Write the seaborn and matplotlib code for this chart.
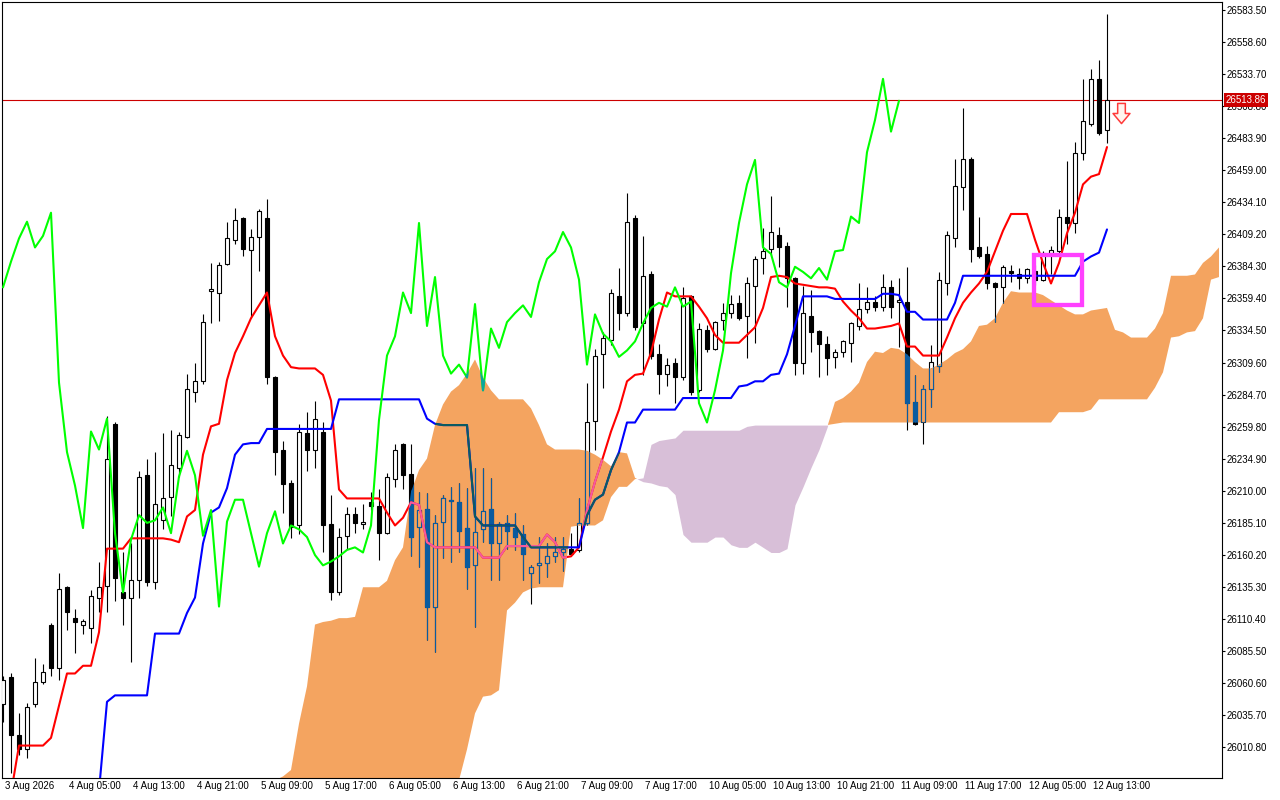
import numpy as np
import pandas as pd
import matplotlib
matplotlib.use("Agg")
import matplotlib.pyplot as plt
import matplotlib.transforms as mtrans
from matplotlib.path import Path
from matplotlib.patches import Rectangle
import seaborn as sns

# =====================================
# 1. Data (H1 bars, 3 Aug - 12 Aug 2026)
# =====================================
opens = [26044, 26065, 26020, 26009, 26044, 26061, 26106, 26072, 26135, 26111,
         26106, 26103, 26127, 26136, 26262, 26131, 26127, 26141, 26222, 26139,
         26187, 26205, 26228, 26252, 26287, 26295, 26365, 26364, 26386, 26405,
         26422, 26397, 26407, 26422, 26298, 26242, 26216, 26183, 26255, 26242,
         26256, 26184, 26131, 26175, 26192, 26184, 26201, 26198, 26177, 26219,
         26246, 26223, 26182, 26196, 26120, 26186, 26202, 26201, 26181, 26152,
         26180, 26196, 26169, 26185, 26181, 26176, 26146, 26152, 26154, 26159,
         26162, 26165, 26164, 26185, 26264, 26316, 26327, 26361, 26348, 26422,
         26340, 26378, 26316, 26301, 26309, 26298, 26361, 26288, 26335, 26320,
         26343, 26348, 26356, 26346, 26369, 26391, 26398, 26409, 26400, 26375,
         26309, 26346, 26334, 26324, 26314, 26318, 26325, 26338, 26351, 26357,
         26353, 26368, 26357, 26357, 26279, 26263, 26289, 26307, 26371, 26406,
         26446, 26468, 26399, 26394, 26371, 26368, 26381, 26378, 26375, 26381,
         26374, 26395, 26396, 26423, 26418, 26472, 26495, 26530, 26490]
highs = [26066, 26068, 26037, 26045, 26080, 26075, 26107, 26146, 26136, 26118,
         26110, 26133, 26155, 26268, 26263, 26162, 26169, 26225, 26235, 26240,
         26255, 26257, 26256, 26301, 26309, 26347, 26387, 26388, 26419, 26430,
         26423, 26413, 26429, 26437, 26299, 26249, 26218, 26262, 26271, 26280,
         26263, 26207, 26181, 26197, 26197, 26200, 26209, 26211, 26224, 26246,
         26247, 26246, 26209, 26208, 26191, 26207, 26213, 26216, 26212, 26228,
         26228, 26220, 26186, 26191, 26193, 26183, 26152, 26174, 26169, 26174,
         26174, 26177, 26204, 26294, 26320, 26333, 26367, 26383, 26441, 26424,
         26408, 26381, 26324, 26313, 26313, 26368, 26362, 26340, 26339, 26342,
         26356, 26362, 26362, 26376, 26392, 26414, 26439, 26415, 26403, 26376,
         26369, 26366, 26335, 26330, 26320, 26327, 26341, 26371, 26368, 26361,
         26378, 26374, 26375, 26384, 26300, 26292, 26323, 26380, 26412, 26468,
         26507, 26469, 26423, 26400, 26372, 26385, 26385, 26383, 26383, 26385,
         26396, 26400, 26429, 26466, 26481, 26530, 26538, 26545, 26580]
lows = [26030, 25991, 26005, 26002, 26042, 26060, 26066, 26063, 26102, 26084,
        26099, 26092, 26116, 26116, 26124, 26106, 26077, 26127, 26136, 26134,
        26180, 26190, 26221, 26251, 26279, 26293, 26340, 26342, 26385, 26402,
        26392, 26344, 26381, 26293, 26222, 26193, 26173, 26176, 26225, 26228,
        26162, 26125, 26129, 26165, 26177, 26180, 26195, 26156, 26176, 26213,
        26211, 26159, 26151, 26094, 26085, 26158, 26155, 26162, 26134, 26104,
        26170, 26141, 26141, 26165, 26164, 26141, 26122, 26138, 26143, 26155,
        26148, 26160, 26162, 26183, 26242, 26290, 26323, 26335, 26346, 26335,
        26300, 26312, 26285, 26291, 26278, 26296, 26284, 26287, 26318, 26319,
        26335, 26344, 26343, 26313, 26325, 26378, 26392, 26384, 26353, 26300,
        26301, 26318, 26298, 26300, 26305, 26314, 26310, 26335, 26348, 26350,
        26350, 26344, 26322, 26257, 26261, 26246, 26275, 26302, 26362, 26399,
        26428, 26388, 26391, 26367, 26341, 26356, 26372, 26367, 26371, 26370,
        26373, 26378, 26395, 26402, 26410, 26467, 26493, 26486, 26480]
closes = [26063, 26020, 26009, 26042, 26061, 26069, 26072, 26134, 26116, 26108,
          26109, 26128, 26135, 26235, 26142, 26127, 26141, 26221, 26139, 26200,
          26204, 26230, 26253, 26289, 26295, 26341, 26367, 26385, 26406, 26420,
          26398, 26407, 26427, 26298, 26240, 26215, 26182, 26256, 26242, 26266,
          26183, 26131, 26174, 26192, 26185, 26186, 26198, 26177, 26221, 26242,
          26222, 26174, 26195, 26120, 26185, 26204, 26203, 26179, 26151, 26178,
          26194, 26169, 26184, 26179, 26174, 26161, 26151, 26154, 26159, 26162,
          26165, 26161, 26185, 26263, 26315, 26329, 26364, 26348, 26419, 26337,
          26377, 26315, 26301, 26308, 26298, 26360, 26287, 26336, 26320, 26341,
          26348, 26355, 26344, 26371, 26390, 26396, 26411, 26399, 26375, 26309,
          26348, 26333, 26324, 26313, 26318, 26326, 26340, 26351, 26357, 26353,
          26368, 26353, 26358, 26278, 26262, 26289, 26310, 26374, 26409, 26447,
          26468, 26398, 26392, 26371, 26368, 26384, 26379, 26375, 26382, 26374,
          26395, 26397, 26423, 26418, 26472, 26497, 26530, 26488, 26513.86]

tenkan = [25962, 25975, 26012, 26012, 26012, 26012, 26018, 26043, 26068, 26068,
          26074, 26074, 26100, 26165, 26165, 26165, 26173, 26173, 26173, 26173,
          26173, 26172, 26170, 26190, 26195, 26238, 26260, 26262, 26296, 26317,
          26330, 26344, 26354, 26364, 26330, 26315, 26306, 26305, 26305, 26305,
          26300, 26280, 26211, 26204, 26204, 26204, 26204, 26204, 26193, 26183,
          26189, 26201, 26199, 26170, 26166, 26166, 26166, 26166, 26166, 26166,
          26158, 26158, 26158, 26167, 26167, 26167, 26167, 26167, 26176, 26170,
          26158, 26159, 26166, 26195, 26217, 26236, 26256, 26273, 26295, 26300,
          26301, 26317, 26343, 26364, 26361, 26361, 26361, 26353, 26344, 26331,
          26325, 26325, 26325, 26331, 26337, 26352, 26376, 26377, 26376, 26371,
          26370, 26369, 26368, 26368, 26367, 26357, 26350, 26344, 26336, 26336,
          26337, 26338, 26340, 26322, 26322, 26315, 26315, 26315, 26329, 26344,
          26356, 26364, 26371, 26380, 26396, 26412, 26425, 26425, 26425, 26405,
          26387, 26371, 26387, 26410, 26426, 26448, 26454, 26456, 26477]
nan = np.nan
kijun = [nan, nan, nan, nan, nan, nan, nan, nan, nan, nan,
         nan, nan, 25977, 26046, 26051, 26051, 26051, 26051, 26051, 26099,
         26099, 26099, 26099, 26115, 26127, 26169, 26193, 26197, 26212, 26238,
         26246, 26247, 26247, 26258, 26258, 26258, 26258, 26258, 26258, 26258,
         26258, 26258, 26281, 26281, 26281, 26281, 26281, 26281, 26281, 26281,
         26281, 26281, 26281, 26266, 26262, 26261, 26261, 26261, 26261, 26190,
         26183, 26183, 26183, 26183, 26183, 26174, 26166, 26166, 26166, 26166,
         26166, 26166, 26166, 26191, 26203, 26207, 26226, 26240, 26263, 26263,
         26273, 26273, 26273, 26273, 26273, 26282, 26282, 26282, 26282, 26282,
         26282, 26282, 26291, 26292, 26295, 26295, 26300, 26301, 26316, 26338,
         26361, 26361, 26361, 26361, 26359, 26359, 26359, 26359, 26359, 26359,
         26363, 26363, 26362, 26349, 26349, 26343, 26343, 26343, 26343, 26356,
         26377, 26377, 26377, 26377, 26377, 26377, 26377, 26377, 26377, 26377,
         26377, 26377, 26377, 26377, 26377, 26388, 26392, 26395, 26413]
chikou = [26368, 26388, 26406, 26419, 26399, 26408, 26426, 26294, 26240, 26214,
          26181, 26256, 26242, 26266, 26177, 26131, 26172, 26191, 26185, 26187,
          26197, 26177, 26221, 26241, 26222, 26175, 26195, 26120, 26186, 26203,
          26203, 26177, 26151, 26177, 26194, 26169, 26183, 26180, 26174, 26160,
          26152, 26155, 26159, 26164, 26166, 26162, 26183, 26265, 26315, 26330,
          26364, 26348, 26418, 26338, 26376, 26315, 26301, 26308, 26298, 26355,
          26288, 26336, 26321, 26341, 26348, 26354, 26345, 26372, 26390, 26396,
          26411, 26399, 26374, 26308, 26347, 26332, 26326, 26314, 26319, 26326,
          26340, 26352, 26356, 26353, 26368, 26353, 26357, 26278, 26263, 26288,
          26319, 26379, 26418, 26448, 26467, 26399, 26394, 26372, 26368, 26384,
          26380, 26375, 26383, 26374, 26396, 26397, 26423, 26418, 26473, 26498,
          26530, 26489, 26513]

# senkou spans, already shifted 26 bars ahead; first value sits on bar 34
cloud_start = 34
span_a = [25985, 25988, 25993, 26029, 26058, 26106, 26108, 26109, 26111, 26111,
          26112, 26135, 26135, 26135, 26140, 26156, 26166, 26209, 26226, 26235,
          26261, 26277, 26287, 26292, 26301, 26312, 26298, 26288, 26281, 26281,
          26281, 26281, 26274, 26261, 26246, 26242, 26242, 26242, 26242, 26241,
          26238, 26234, 26229, 26240, 26239, 26220, 26217, 26216, 26214, 26213,
          26207, 26176, 26170, 26170, 26170, 26174, 26174, 26168, 26166, 26166,
          26170, 26166, 26162, 26162, 26165, 26199, 26213, 26228, 26242, 26259,
          26279, 26282, 26287, 26294, 26310, 26318, 26317, 26321, 26320, 26316,
          26310, 26305, 26305, 26308, 26312, 26317, 26320, 26326, 26338, 26339,
          26344, 26356, 26365, 26364, 26364, 26364, 26362, 26358, 26354, 26350,
          26347, 26347, 26350, 26351, 26352, 26335, 26333, 26329, 26329, 26329,
          26336, 26348, 26377, 26377, 26377, 26378, 26387, 26392, 26399]
span_b = [25930, 25930, 25930, 25930, 25930, 25930, 25930, 25930, 25930, 25930,
          25930, 25930, 25930, 25930, 25930, 25930, 25930, 25945, 25945, 25945,
          25945, 25945, 25962, 25985, 26009, 26037, 26050, 26051, 26055, 26117,
          26123, 26131, 26134, 26135, 26135, 26135, 26135, 26182, 26183, 26183,
          26183, 26187, 26205, 26213, 26213, 26219, 26220, 26246, 26249, 26250,
          26251, 26257, 26257, 26257, 26257, 26257, 26257, 26257, 26257, 26260,
          26261, 26261, 26261, 26261, 26261, 26261, 26261, 26261, 26261, 26261,
          26262, 26263, 26263, 26263, 26263, 26263, 26263, 26263, 26263, 26263,
          26263, 26263, 26263, 26263, 26263, 26263, 26263, 26263, 26263, 26263,
          26263, 26263, 26263, 26263, 26263, 26263, 26263, 26263, 26271, 26271,
          26271, 26271, 26273, 26281, 26281, 26281, 26281, 26281, 26281, 26281,
          26290, 26302, 26329, 26330, 26333, 26334, 26344, 26374, 26376]

last_price = 26513.86
price_levels = [26583.50, 26558.60, 26533.70, 26508.80, 26483.90, 26459.00,
                26434.10, 26409.20, 26384.30, 26359.40, 26334.50, 26309.60,
                26284.70, 26259.80, 26234.90, 26210.00, 26185.10, 26160.20,
                26135.30, 26110.40, 26085.50, 26060.60, 26035.70, 26010.80]
tick_bars = [0, 8, 16, 24, 32, 40, 48, 56, 64, 72, 80, 88, 96, 104, 112, 120, 128, 136]
tick_labels = ["3 Aug 2026", "4 Aug 05:00", "4 Aug 13:00", "4 Aug 21:00",
               "5 Aug 09:00", "5 Aug 17:00", "6 Aug 05:00", "6 Aug 13:00",
               "6 Aug 21:00", "7 Aug 09:00", "7 Aug 17:00", "10 Aug 05:00",
               "10 Aug 13:00", "10 Aug 21:00", "11 Aug 09:00", "11 Aug 17:00",
               "12 Aug 05:00", "12 Aug 13:00"]

# marked zone and signal arrow
zone_bars = (128.9, 134.9)
zone_prices = (26354.3, 26392.8)
arrow_bar = 139.8
arrow_price = 26503.5

df = pd.DataFrame({"open": opens, "high": highs, "low": lows, "close": closes})
df["bar"] = np.arange(len(df))
df["bull"] = df["close"] >= df["open"]
df["body_lo"] = df[["open", "close"]].min(axis=1)
df["body_h"] = (df["close"] - df["open"]).abs().clip(lower=0.01)

# =====================================
# 2. Figure
# =====================================
sns.set_style("white")
plt.rcParams["font.family"] = ["Liberation Sans", "DejaVu Sans"]

fig = plt.figure(figsize=(12.8, 8), dpi=100)
ax = fig.add_axes([2 / 1280, 22 / 800, 1220 / 1280, 776 / 800])

# cloud
cx = np.arange(cloud_start, cloud_start + len(span_a))
sa = np.array(span_a, dtype=float)
sb = np.array(span_b, dtype=float)
up = ax.fill_between(cx, sa, sb, where=sa >= sb, interpolate=True,
                     color="#F4A460", lw=0, zorder=1)
ax.fill_between(cx, sa, sb, where=sa <= sb, interpolate=True,
                color="#D8BFD8", lw=0, zorder=1)
cloud_path = Path.make_compound_path(*up.get_paths())

# price line
ax.axhline(last_price, color="#CC0000", lw=0.8, zorder=2)


def draw_candles(wick_col, bull_face, bear_face, z, clip=None):
    wicks = ax.vlines(df["bar"], df["low"], df["high"], colors=wick_col,
                      linewidth=0.8, zorder=z)
    faces = np.where(df["bull"], bull_face, bear_face)
    bodies = ax.bar(df["bar"], df["body_h"], bottom=df["body_lo"], width=0.5,
                    color=faces, edgecolor=wick_col, linewidth=0.8, zorder=z + 0.1)
    if clip is not None:
        wicks.set_clip_path(clip, ax.transData)
        for p in bodies.patches:
            p.set_clip_path(clip, ax.transData)


draw_candles("black", "white", "black", 3)
# part inside the sandy cloud shows inverted colours
draw_candles("#0B5B9F", "#F4A460", "#0B5B9F", 3.5, clip=cloud_path)

bars = np.arange(len(df))
lines = [(tenkan, bars, "#FF0000", "#F45B9F"),
         (kijun, bars, "#0000FF", "#0B5B60"),
         (chikou, np.arange(len(chikou)), "#00FF00", "#0BA49F")]
for vals, xs, col, inv in lines:
    sns.lineplot(x=xs, y=vals, color=col, linewidth=1.5, ax=ax, zorder=6)
    sns.lineplot(x=xs, y=vals, color=inv, linewidth=1.5, ax=ax, zorder=6.5)
    ax.lines[-1].set_clip_path(cloud_path, ax.transData)

# zone rectangle
ax.add_patch(Rectangle((zone_bars[0], zone_prices[0]), zone_bars[1] - zone_bars[0],
                       zone_prices[1] - zone_prices[0], fill=False,
                       edgecolor="#FF40FF", lw=3.1, zorder=8))

# hollow sell arrow as a custom marker
arrow_marker = Path([(-0.19, 0.5), (0.19, 0.5), (0.19, 0.0), (0.42, 0.0),
                     (0.0, -0.5), (-0.42, 0.0), (-0.19, 0.0), (-0.19, 0.5)],
                    closed=True)
ax.plot([arrow_bar], [arrow_price], marker=arrow_marker, markersize=14.5,
        markerfacecolor="#FFF4EE", markeredgecolor="#FF3A3A",
        markeredgewidth=1.1, linestyle="none", zorder=9)

# =====================================
# 3. Axes
# =====================================
ax.set_xlim(-0.125, 152.375)
ax.set_ylim(25986.8, 26589.7)
ax.set_xlabel("")
ax.set_ylabel("")
ax.yaxis.tick_right()
ax.set_yticks(price_levels)
ax.set_yticklabels([f"{v:.2f}" for v in price_levels])
ax.set_xticks(tick_bars)
ax.set_xticklabels(tick_labels, ha="left")
ax.tick_params(axis="y", length=2.2, width=0.8, pad=1, labelsize=7, colors="black")
ax.tick_params(axis="x", length=3.4, width=0.8, pad=-1, labelsize=7, colors="black")
shift = mtrans.ScaledTranslation(0.018, 0, fig.dpi_scale_trans)
for lab in ax.get_xticklabels():
    lab.set_transform(lab.get_transform() + shift)
for s in ax.spines.values():
    s.set_color("black")
    s.set_linewidth(0.8)

tr = mtrans.blended_transform_factory(ax.transAxes, ax.transData)
ax.text(1.0 + 3.8 / 1220, last_price, f"{last_price:.2f}", transform=tr, color="white",
        fontsize=7, ha="left", va="center", clip_on=False, zorder=10,
        bbox=dict(boxstyle="square,pad=0.2", fc="#CC0000", ec="none"))

fig.savefig("out.png", dpi=100)
